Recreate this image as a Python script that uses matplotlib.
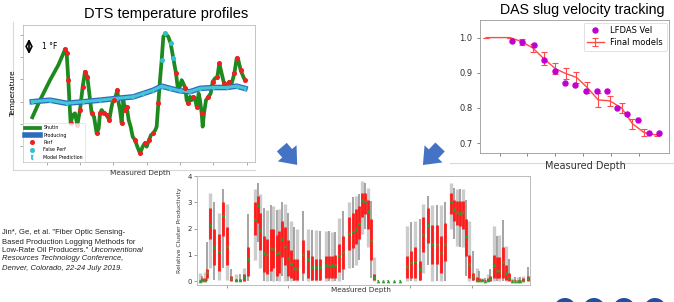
import numpy as np
import matplotlib
matplotlib.use("Agg")
import matplotlib.pyplot as plt
from matplotlib.patches import FancyArrowPatch, Ellipse
from matplotlib.lines import Line2D

W, H = 674, 302

# ---------------- DTS temperature profiles (top left) ----------------
shutin_depth = [570, 800, 1100, 1350, 1500, 1550, 1600, 1650, 1680, 1720, 1780, 1850, 1920, 2000,
                2080, 2150, 2220, 2280, 2350, 2420, 2500, 2560, 2600, 2650, 2720, 2800, 2880, 2930,
                2970, 3020, 3080, 3120, 3160, 3200, 3250, 3300, 3350, 3400, 3460, 3520, 3580, 3650,
                3720, 3800, 3880, 3940, 4000, 4070, 4130, 4200, 4260, 4300, 4350, 4400, 4450, 4500,
                4560, 4650, 4720, 4800, 4880, 4930, 4980, 5050, 5100, 5160, 5200, 5250, 5300, 5350,
                5400, 5450, 5500, 5560, 5600, 5650, 5680, 5720, 5780, 5850, 5920, 5980, 6050, 6120,
                6180, 6250, 6320, 6400, 6480, 6550, 6630, 6700, 6750, 6820, 6900, 6950]
shutin_temp = [199.30, 200.07, 200.97, 201.65, 202.17, 202.35, 202.17, 200.97, 200.07, 199.03,
               199.40, 199.48, 198.95, 199.63, 200.67, 201.35, 201.12, 200.37, 199.48, 199.33,
               198.58, 198.80, 199.48, 199.63, 199.48, 199.40, 199.18, 199.63, 199.93, 200.07,
               200.30, 200.52, 199.93, 199.63, 199.03, 200.07, 199.63, 199.78, 199.18, 198.88,
               198.43, 198.28, 197.98, 197.68, 197.98, 198.13, 197.98, 198.28, 198.50, 198.58,
               198.73, 198.88, 199.93, 200.97, 201.87, 202.92, 203.07, 202.92, 202.62, 201.95,
               201.27, 200.67, 200.60, 200.97, 200.82, 200.60, 200.07, 199.93, 200.22, 200.07,
               200.22, 200.15, 199.78, 200.37, 200.07, 199.48, 198.88, 199.48, 200.07, 200.22,
               200.37, 200.90, 201.05, 201.12, 201.72, 201.27, 200.82, 200.67, 200.90, 200.82,
               201.27, 201.95, 201.87, 201.42, 201.12, 200.97]
prod_depth = [570, 1100, 1600, 2100, 2600, 3100, 3600, 3900, 4200, 4450, 4700, 5000, 5300, 5600,
              6000, 6400, 6700, 6950]
prod_temp = [200.0, 200.07, 199.93, 200.0, 200.07, 200.15, 200.22, 200.37, 200.52, 200.70, 200.60,
             200.49, 200.45, 200.60, 200.64, 200.64, 200.70, 200.60]
perf_idx = [5, 6, 7, 9, 12, 13, 14, 15, 16, 18, 20, 22, 24, 25, 26, 29, 31, 34, 36, 37, 41, 43, 45,
            47, 49, 52, 60, 65, 67, 70, 72, 75, 79, 81, 83, 84, 86, 88, 90, 91, 93, 95]
false_perf_idx = [54, 56, 58, 59]

# ---------------- DAS slug velocity tracking (top right) ----------------
lfdas_x = [1.45, 1.81, 2.22, 2.59, 2.98, 3.36, 3.72, 4.09, 4.48, 4.85, 5.22, 5.59, 5.98, 6.35, 6.72]
lfdas_vel = [0.99, 0.988, 0.98, 0.937, 0.905, 0.87, 0.866, 0.848, 0.848, 0.848, 0.80, 0.783, 0.767,
             0.73, 0.728]
model_x = [0.52, 1.38, 1.81, 2.20, 2.59, 3.00, 3.37, 3.76, 4.15, 4.54, 4.96, 5.38, 5.77, 6.19, 6.64]
model_vel = [1.0, 1.0, 0.988, 0.97, 0.94, 0.912, 0.898, 0.887, 0.858, 0.823, 0.82, 0.80, 0.755,
             0.73, 0.723]
model_err = [0, 0, 0.008, 0.012, 0.018, 0.015, 0.015, 0.015, 0.015, 0.02, 0.015, 0.015, 0.015,
             0.01, 0.003]

# ---------------- Relative cluster productivity (bottom) ----------------
cl_depth = [30, 53, 77, 97, 130, 170, 217, 257, 300, 343, 387, 427, 470, 513, 580, 613, 633, 670,
            697, 737, 763, 797, 823, 853, 880, 910, 940, 970, 997, 1063, 1113, 1147, 1190, 1230,
            1290, 1323, 1353, 1380, 1420, 1463, 1523, 1557, 1587, 1620, 1650, 1680, 1713, 1740,
            1770, 1813, 1863, 1913, 1970, 2030, 2097, 2137, 2183, 2230, 2263, 2307, 2350, 2397,
            2437, 2480, 2537, 2570, 2600, 2633, 2663, 2693, 2723, 2757, 2797, 2817, 2850, 2880,
            2910, 2930, 2970, 3000, 3020, 3060, 3090, 3120, 3150, 3180, 3210, 3230, 3260, 3310]
cl_median = [0.02, 0.05, 0.05, 0.35, 2.15, 1.3, 1.15, 2.5, 1.33, 0.12, 0.03, 0.03, 0.15, 0.83,
             2.37, 2.9, 1.95, 1.05, 1.03, 1.25, 1.27, 1.05, 1.1, 1.6, 1.35, 0.88, 0.68, 0.5, 0.5,
             1.02, 0.83, 0.55, 0.52, 0.52, 0.6, 0.6, 0.6, 0.6, 0.98, 1.1, 1.83, 1.9, 2.0, 2.2,
             3.07, 3.05, 2.68, 1.55, 0.15, 0.0, 0.0, 0.0, 0.0, 0.0, 0.57, 0.72, 0.75, 0.45, 1.8,
             2.15, 1.42, 1.42, 1.12, 1.42, 3.05, 2.75, 2.62, 2.6, 2.62, 1.7, 0.65, 0.2, 0.05,
             0.05, 0.03, 0.02, 0.05, 0.1, 0.62, 0.42, 0.42, 0.74, 0.32, 0.15, 0.02, 0.02, 0.02,
             0.02, 0.05, 0.1]
cl_q_lo = [0, 0, 0, 0.1, 1.6, 0.6, 0.4, 1.7, 0.6, 0.02, 0, 0, 0.02, 0.2, 1.75, 2.2, 1.2, 0.35,
           0.25, 0.4, 0.5, 0.2, 0.3, 0.9, 0.6, 0.2, 0.1, 0.05, 0.05, 0.3, 0.1, 0.05, 0.05, 0.05,
           0.1, 0.1, 0.1, 0.1, 0.35, 0.45, 1.2, 1.25, 1.4, 1.6, 2.45, 2.55, 2.0, 0.8, 0.05, 0, 0,
           0, 0, 0, 0.1, 0.1, 0.1, 0.05, 1.1, 1.45, 0.65, 0.65, 0.3, 0.75, 2.55, 2.3, 2.15, 2.1,
           2.0, 0.95, 0.1, 0.05, 0, 0, 0, 0, 0, 0.02, 0.1, 0.1, 0.1, 0.1, 0.05, 0.02, 0, 0, 0, 0,
           0, 0.02]
cl_q_hi = [0.05, 0.1, 0.12, 0.45, 2.8, 2.0, 1.8, 3.0, 2.05, 0.2, 0.08, 0.08, 0.25, 1.3, 3.0, 3.25,
           2.6, 1.7, 1.6, 2.0, 2.0, 1.75, 1.9, 2.3, 2.05, 1.55, 1.2, 0.85, 0.85, 1.55, 1.2, 0.95,
           0.85, 0.85, 0.95, 0.95, 0.95, 1.0, 1.4, 1.7, 2.45, 2.6, 2.75, 2.85, 3.35, 3.35, 3.1,
           2.35, 0.25, 0.02, 0.02, 0.02, 0.02, 0.02, 0.95, 1.15, 1.3, 0.75, 2.45, 2.8, 2.15, 2.15,
           1.7, 2.2, 3.35, 3.1, 3.05, 3.05, 3.05, 2.35, 1.0, 0.3, 0.15, 0.12, 0.08, 0.05, 0.1, 0.2,
           1.0, 0.9, 0.9, 1.3, 0.6, 0.3, 0.05, 0.05, 0.05, 0.05, 0.1, 0.2]
cl_lo = [0, 0, 0, 0, 0.5, 0.05, 0.05, 0.5, 0.05, 0, 0, 0, 0, 0, 0.8, 1.5, 0.5, 0, 0, 0, 0, 0, 0,
         0.2, 0, 0, 0, 0, 0, 0, 0, 0, 0, 0, 0, 0, 0, 0, 0, 0.05, 0.5, 0.5, 0.6, 0.8, 1.8, 2.0,
         1.3, 0.1, 0, 0, 0, 0, 0, 0, 0, 0, 0, 0, 0.3, 0.6, 0, 0, 0, 0, 2.0, 1.6, 1.35, 1.3, 1.3,
         0.2, 0, 0, 0, 0, 0, 0, 0, 0, 0, 0, 0, 0, 0, 0, 0, 0, 0, 0, 0, 0]
cl_hi = [0.3, 0.2, 0.35, 1.48, 3.35, 3.0, 2.6, 3.5, 2.95, 0.45, 0.28, 0.28, 0.5, 2.55, 3.5, 3.72,
         3.3, 2.8, 2.7, 2.9, 2.85, 2.7, 2.75, 3.0, 2.95, 2.6, 2.3, 2.05, 2.0, 2.65, 2.0, 1.95,
         1.95, 1.9, 1.9, 1.9, 1.85, 1.85, 2.4, 2.65, 3.0, 3.2, 3.25, 3.3, 3.8, 3.75, 3.55, 3.05,
         0.9, 0.05, 0.05, 0.05, 0.05, 0.05, 2.1, 2.25, 2.3, 2.35, 2.95, 3.25, 2.9, 2.9, 2.9, 3.0,
         3.75, 3.55, 3.5, 3.5, 3.5, 3.1, 2.3, 1.15, 0.5, 0.4, 0.13, 0.1, 0.25, 0.45, 2.1, 1.7,
         1.75, 2.33, 1.35, 0.85, 0.1, 0.15, 0.15, 0.15, 0.2, 0.52]

citation = ['Jin*, Ge, et al. "Fiber Optic Sensing-',
            'Based Production Logging Methods for',
            'Low-Rate Oil Producers." ',
            'Resources Technology Conference,',
            'Denver, Colorado, 22-24 July 2019.']


def box(l, t, r, b):
    return [l / W, 1 - b / H, (r - l) / W, (b - t) / H]


fig = plt.figure(figsize=(W / 100, H / 100), dpi=100)
title_font = "Liberation Sans"

# ---- DTS panel ----
ax1 = fig.add_axes(box(23, 25, 255, 162))
ax1.plot(shutin_depth, shutin_temp, color="#1e8a1e", lw=2.7, label="Shutin", zorder=2)
ax1.plot(prod_depth, prod_temp, color="#2c6cbf", lw=4.0, label="Producing", zorder=3)
ax1.plot(prod_depth, prod_temp, color="#45c6d6", lw=2.2, zorder=4)
sd = np.array(shutin_depth)
st = np.array(shutin_temp)
ax1.plot(sd[perf_idx], st[perf_idx], "o", color="#ee2020", ms=2.6, label="Perf", zorder=5)
ax1.plot(sd[false_perf_idx], st[false_perf_idx], "o", color="#30c0d0", ms=2.6,
         label="False Perf", zorder=5)
ax1.errorbar(prod_depth, prod_temp, yerr=0.07, fmt="none", ecolor="#45c6d6", elinewidth=1.5,
             capsize=1, label="Model Prediction", zorder=4)
ax1.annotate("", xy=(470, 202.02), xytext=(470, 202.95),
             arrowprops=dict(arrowstyle="<->", color="black", lw=1.2))
ax1.text(850, 202.47, "1 °F", fontsize=5.5, va="center", ha="left")
ax1.set_xlim(290, 7250)
ax1.set_ylim(197.29, 203.45)
ax1.set_xticks([1000, 2000, 3000, 4000, 5000, 6000, 7000])
ax1.set_yticks([198, 199, 200, 201, 202, 203])
ax1.tick_params(labelbottom=False, labelleft=False, length=2, width=0.5, colors="#888888")
for s in ax1.spines.values():
    s.set_color("#bbbbbb")
    s.set_linewidth(0.6)
ax1.set_ylabel("Temperature", fontsize=5.3, labelpad=3)
leg1 = ax1.legend(loc="lower left", fontsize=3.4, frameon=True, borderpad=0.4,
                  labelspacing=0.5, handlelength=3.0, borderaxespad=0.1)
leg1.get_frame().set_linewidth(0.4)
fig.text(166 / W, 1 - 14 / H, "DTS temperature profiles", fontsize=10.5, family=title_font,
         ha="center", va="center")
fig.text(140 / W, 1 - 173 / H, "Measured Depth", fontsize=5.3, ha="center", va="center",
         color="#333333")

# ---- DAS panel ----
ax2 = fig.add_axes(box(480, 20, 669, 153))
ax2.errorbar(model_x, model_vel, yerr=model_err, color="#ff4a4a", lw=1.0, elinewidth=0.8,
             capsize=2, capthick=0.8, label="Final models", zorder=2)
ax2.plot(lfdas_x, lfdas_vel, "o", color="#c000d0", ms=3.6, label="LFDAS Vel", zorder=3)
ax2.set_xlim(0.3, 7.08)
ax2.set_ylim(0.672, 1.05)
ax2.set_xticks([1, 2, 3, 4, 5, 6])
ax2.set_yticks([0.7, 0.8, 0.9, 1.0])
ax2.tick_params(labelbottom=False, labelsize=6, length=2, width=0.5, colors="#555555",
                labelcolor="#333333")
for s in ax2.spines.values():
    s.set_color("#999999")
    s.set_linewidth(0.6)
leg2 = ax2.legend(loc="upper right", fontsize=6, borderpad=0.4, labelspacing=0.4,
                  handlelength=2.0, borderaxespad=0.3)
leg2.get_frame().set_linewidth(0.5)
fig.text(582 / W, 1 - 10 / H, "DAS slug velocity tracking", fontsize=10.2, family=title_font,
         ha="center", va="center")
fig.text(585 / W, 1 - 166 / H, "Measured Depth", fontsize=7, ha="center", va="center",
         color="#333333")

# ---- productivity panel ----
ax3 = fig.add_axes(box(197, 176, 530, 285))
gray_cols = ["#cccccc" if i % 2 == 0 else "#8c8c8c" for i in range(len(cl_depth))]
gray_lws = [2.4 if i % 2 == 0 else 1.1 for i in range(len(cl_depth))]
ax3.vlines(cl_depth, cl_lo, cl_hi, colors=gray_cols, linewidths=gray_lws, zorder=1)
ax3.vlines(cl_depth, cl_q_lo, cl_q_hi, colors="#ff1a1a", linewidths=2.0, zorder=2)
ax3.plot(cl_depth, cl_median, "^", color="#2ca02c", ms=2.6, mew=0, zorder=3)
ax3.set_xlim(0, 3330)
ax3.set_ylim(-0.15, 4.0)
ax3.set_xticks([300, 910, 1520, 2130, 2750])
ax3.set_yticks([0, 1, 2, 3, 4])
ax3.tick_params(labelbottom=False, labelsize=5, length=2, width=0.5, colors="#777777",
                labelcolor="#333333", pad=1.5)
for s in ax3.spines.values():
    s.set_color("#bbbbbb")
    s.set_linewidth(0.7)
ax3.set_ylabel("Relative Cluster Productivity", fontsize=4.3, labelpad=4, color="#333333")
fig.text(361 / W, 1 - 290 / H, "Measured Depth", fontsize=5.2, ha="center", va="center",
         color="#333333")

# ---- slide decorations ----
over = fig.add_axes([0, 0, 1, 1], zorder=-1)
over.set_xlim(0, W)
over.set_ylim(H, 0)
over.axis("off")
over.add_line(Line2D([13, 13], [22, 170], color="#d8d8d8", lw=0.8))
over.add_line(Line2D([13, 255], [170, 170], color="#d8d8d8", lw=0.8))
over.add_line(Line2D([450, 674], [163, 163], color="#d8d8d8", lw=0.8))

for tail, tip in [((280, 145), (299, 167)), ((442, 145), (421, 167))]:
    over.add_patch(FancyArrowPatch(tail, tip,
                                   arrowstyle="simple,head_length=0.65,head_width=1.05,tail_width=0.55",
                                   mutation_scale=17, color="#4472c4", lw=0))

for cx in [565, 594, 624, 655]:
    over.add_patch(Ellipse((cx, 309), 22, 22, color="#1f4f9e", lw=0))

line_y = [233, 242, 251, 259, 268]
for i, (txt, y) in enumerate(zip(citation, line_y)):
    style = "italic" if i >= 3 else "normal"
    t = over.text(2, y, txt, fontsize=5.5, family=title_font, style=style, va="center",
                  ha="left", color="#222222")
    if i == 2:
        over.annotate("Unconventional", xy=(1, 0.5), xycoords=t, fontsize=5.5,
                      family=title_font, style="italic", va="center", ha="left",
                      color="#222222")

fig.savefig("out.png", dpi=100)
